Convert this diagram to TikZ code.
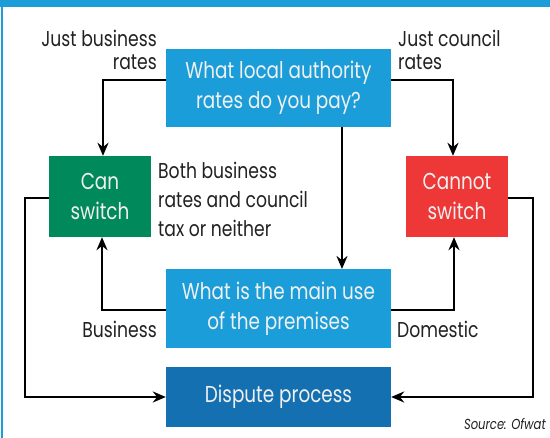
\documentclass[tikz,border=0pt]{standalone}
\usepackage{fontspec}
\setmainfont{Poppins}[FakeStretch=0.8]
\usetikzlibrary{arrows.meta}

\definecolor{qblue}{HTML}{1B9DD9}
\definecolor{pblue}{HTML}{1470B0}
\definecolor{okgreen}{HTML}{00895A}
\definecolor{nored}{HTML}{EE3737}
\definecolor{inktext}{HTML}{222222}

\tikzset{
  box/.style={fill=#1, text=white!94!black, minimum width=225pt, minimum height=78pt,
              inner sep=0pt, align=center, font=\fontsize{23}{30}\selectfont},
  verdict/.style={box=#1, minimum width=102pt, minimum height=81pt},
  flow/.style={draw=black, line width=2.4pt, -{Stealth[length=13pt,width=11pt]}},
  lbl/.style={text=inktext, inner sep=0pt, font=\fontsize{21.5}{23}\selectfont},
}

\begin{document}
\begin{tikzpicture}[x=1pt,y=-1pt]
  \clip (0,0) rectangle (550,438);
  \fill[white] (0,0) rectangle (550,438);
  % frame: heading bar and thin left rule
  \fill[qblue] (0,0) rectangle (550,7);
  \fill[qblue] (1,7) rectangle (2.5,438);

  % boxes
  \node[box=qblue] (rates) at (278.5,88) {What local authority\\rates do you pay?};
  \node[verdict=okgreen] (can) at (100,196.5) {Can\\switch};
  \node[verdict=nored] (cannot) at (457,196.5) {Cannot\\switch};
  \node[box=qblue, minimum height=79pt] (use) at (278.5,308.5) {What is the main use\\of the premises};
  \node[box=pblue, minimum height=60pt] (dispute) at (278.5,397) {Dispute process};

  % routing points
  \coordinate (rl) at (103,80);
  \coordinate (rr) at (453,80);
  \coordinate (ul) at (102,310);
  \coordinate (ur) at (454,310);
  \coordinate (cl) at (25,198);
  \coordinate (cr) at (533,198);

  % connectors
  \draw[flow] (rl -| rates.west) -- (rl) -- (rl |- can.north);
  \draw[flow] (rr -| rates.east) -- (rr) -- (rr |- cannot.north);
  \draw[flow] (342,127) -- (342,269);
  \draw[flow] (ul -| use.west) -- (ul) -- (ul |- can.south);
  \draw[flow] (ur -| use.east) -- (ur) -- (ur |- cannot.south);
  \draw[flow] (cl -| can.west) -- (cl) -- (cl |- dispute.west) -- (dispute.west);
  \draw[flow] (cr -| cannot.east) -- (cr) -- (cr |- dispute.east) -- (dispute.east);

  % labels
  \node[lbl, align=right, anchor=east] (justbiz) at (157,49.5) {Just business\\rates};
  \node[lbl, align=left, anchor=west] (justcouncil) at (398,49.5) {Just council\\rates};
  \node[lbl, align=left, anchor=west, font=\fontsize{21.5}{29}\selectfont] (both) at (158,199) {Both business\\rates and council\\tax or neither};
  \node[lbl, anchor=east] (biz) at (157,329) {Business};
  \node[lbl, anchor=west] (dom) at (397,329) {Domestic};
  \node[lbl, anchor=base east, font=\fontsize{14.5}{16}\itshape] (src) at (546,430) {Source: Ofwat};
\end{tikzpicture}
\end{document}
